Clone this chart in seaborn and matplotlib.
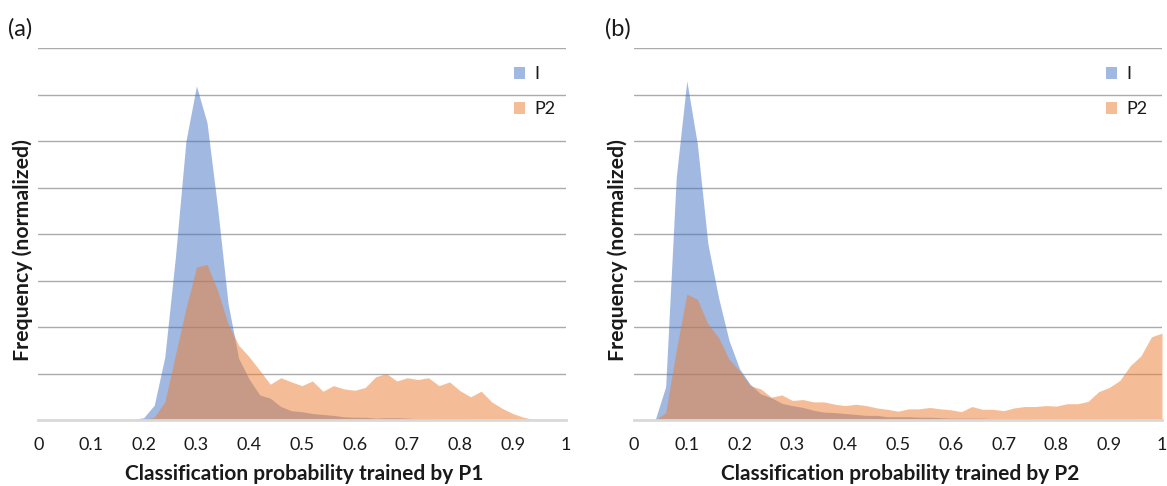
import numpy as np
import pandas as pd
import matplotlib
matplotlib.use("Agg")
import matplotlib.pyplot as plt
from matplotlib.patches import Patch
import seaborn as sns

# ---------------- data ----------------
x_bins = [0.00, 0.02, 0.04, 0.06, 0.08, 0.10, 0.12, 0.14, 0.16, 0.18,
          0.20, 0.22, 0.24, 0.26, 0.28, 0.30, 0.32, 0.34, 0.36, 0.38,
          0.40, 0.42, 0.44, 0.46, 0.48, 0.50, 0.52, 0.54, 0.56, 0.58,
          0.60, 0.62, 0.64, 0.66, 0.68, 0.70, 0.72, 0.74, 0.76, 0.78,
          0.80, 0.82, 0.84, 0.86, 0.88, 0.90, 0.92, 0.94, 0.96, 0.98, 1.00]

# panel (a): trained by P1
a_I = [0, 0, 0, 0, 0, 0, 0, 0, 0, 0.01,
       0.05, 0.32, 1.36, 3.5, 6.0, 7.19, 6.4, 4.58, 2.5, 1.33,
       0.88, 0.54, 0.47, 0.29, 0.20, 0.18, 0.14, 0.12, 0.10, 0.07,
       0.06, 0.06, 0.04, 0.05, 0.05, 0.04, 0.03, 0.03, 0.02, 0.02,
       0.02, 0.01, 0.01, 0, 0, 0, 0, 0, 0, 0, 0]
a_P2 = [0, 0, 0, 0, 0, 0, 0, 0, 0, 0,
        0.02, 0.06, 0.39, 1.4, 2.4, 3.29, 3.35, 2.79, 2.07, 1.61,
        1.36, 1.07, 0.77, 0.91, 0.82, 0.74, 0.84, 0.62, 0.74, 0.67,
        0.64, 0.70, 0.93, 1.0, 0.84, 0.91, 0.87, 0.91, 0.74, 0.82,
        0.63, 0.50, 0.62, 0.39, 0.25, 0.14, 0.06, 0.01, 0, 0, 0]

# panel (b): trained by P2
b_I = [0, 0, 0, 0.72, 5.22, 7.30, 5.94, 3.79, 2.64, 1.71,
       1.10, 0.77, 0.56, 0.48, 0.36, 0.31, 0.27, 0.21, 0.17, 0.16,
       0.14, 0.12, 0.10, 0.10, 0.07, 0.07, 0.07, 0.06, 0.06, 0.05,
       0.04, 0.04, 0.04, 0.04, 0.03, 0.03, 0.03, 0.03, 0.02, 0.02,
       0.02, 0.01, 0.02, 0.02, 0.02, 0.01, 0.02, 0.01, 0.01, 0.01, 0.01]
b_P2 = [0, 0, 0, 0.16, 1.5, 2.71, 2.6, 2.07, 1.78, 1.31,
        1.06, 0.74, 0.67, 0.49, 0.54, 0.42, 0.44, 0.39, 0.39, 0.34,
        0.31, 0.34, 0.31, 0.26, 0.23, 0.19, 0.24, 0.24, 0.27, 0.24,
        0.22, 0.18, 0.29, 0.23, 0.23, 0.20, 0.26, 0.29, 0.29, 0.31,
        0.30, 0.35, 0.35, 0.40, 0.61, 0.70, 0.85, 1.17, 1.38, 1.79, 1.87]

series_names = ["I", "P2"]
tick_values = [0, 0.1, 0.2, 0.3, 0.4, 0.5, 0.6, 0.7, 0.8, 0.9, 1]
tick_labels = ["0", "0.1", "0.2", "0.3", "0.4", "0.5", "0.6", "0.7", "0.8", "0.9", "1"]
panel_tags = ["(a)", "(b)"]
xlabels = ["Classification probability trained by P1",
           "Classification probability trained by P2"]
ylabel = "Frequency (normalized)"

# ---------------- style ----------------
sns.set_theme(style="white")
plt.rcParams["font.family"] = ["Lato", "DejaVu Sans"]

BLUE = "#4472C4"
ORANGE = "#ED7D31"
ALPHA = 0.5
TXT = "#1a1a1a"

W, H = 1167, 486
fig = plt.figure(figsize=(W / 100, H / 100), dpi=100)

def px_axes(x0, x1, ytop, ybot):
    return fig.add_axes([x0 / W, 1 - ybot / H, (x1 - x0) / W, (ybot - ytop) / H])

axes = [px_axes(38.3, 565.5, 48.3, 420), px_axes(634, 1162, 48.3, 420)]
panels = [(a_I, a_P2), (b_I, b_P2)]
legend_x = [0.902, 0.894]
tag_x = [8, 605]

for i, (ax, (s1, s2)) in enumerate(zip(axes, panels)):
    for vals, col in ((s1, BLUE), (s2, ORANGE)):
        df = pd.DataFrame({"prob": x_bins, "freq": vals})
        sns.histplot(data=df, x="prob", weights="freq", binwidth=0.02,
                     binrange=(-0.01, 1.01), element="poly",
                     fill=True, color=col, alpha=ALPHA, linewidth=0, ax=ax)
    ax.set_xlim(0, 1)
    ax.set_ylim(0, 8)
    ax.set_yticks([1, 2, 3, 4, 5, 6, 7, 8])
    ax.set_yticklabels([])
    ax.yaxis.grid(True, color="#ababab", linewidth=1.0)
    ax.set_axisbelow(True)
    ax.tick_params(axis="y", length=0)
    ax.set_xticks(tick_values)
    ax.set_xticklabels(tick_labels, fontsize=13, color=TXT)
    ax.tick_params(axis="x", length=0, pad=12)
    for side in ("top", "left", "right"):
        ax.spines[side].set_visible(False)
    ax.spines["bottom"].set_color("#d9d9d9")
    ax.spines["bottom"].set_linewidth(2)
    ax.set_xlabel(xlabels[i], fontsize=15, fontweight="bold", color=TXT)
    ax.xaxis.set_label_coords(0.505, -0.146)
    ax.xaxis.label.set_verticalalignment("center")
    ax.set_ylabel(ylabel, fontsize=15.3, fontweight="bold", color=TXT)
    ax.yaxis.set_label_coords(-0.030, 0.457)
    ax.yaxis.label.set_verticalalignment("center")

    handles = [Patch(facecolor=BLUE, alpha=ALPHA, edgecolor="none"),
               Patch(facecolor=ORANGE, alpha=ALPHA, edgecolor="none")]
    ax.legend(handles, series_names, loc="upper left",
              bbox_to_anchor=(legend_x[i], 0.952), frameon=False,
              fontsize=13, handlelength=0.62, handleheight=0.62,
              handletextpad=0.5, labelspacing=1.05, borderpad=0,
              borderaxespad=0, labelcolor=TXT)

    fig.text(tag_x[i] / W, 1 - 29 / H, panel_tags[i], fontsize=17,
             color=TXT, ha="left", va="center")

fig.savefig("out.png", dpi=100)
